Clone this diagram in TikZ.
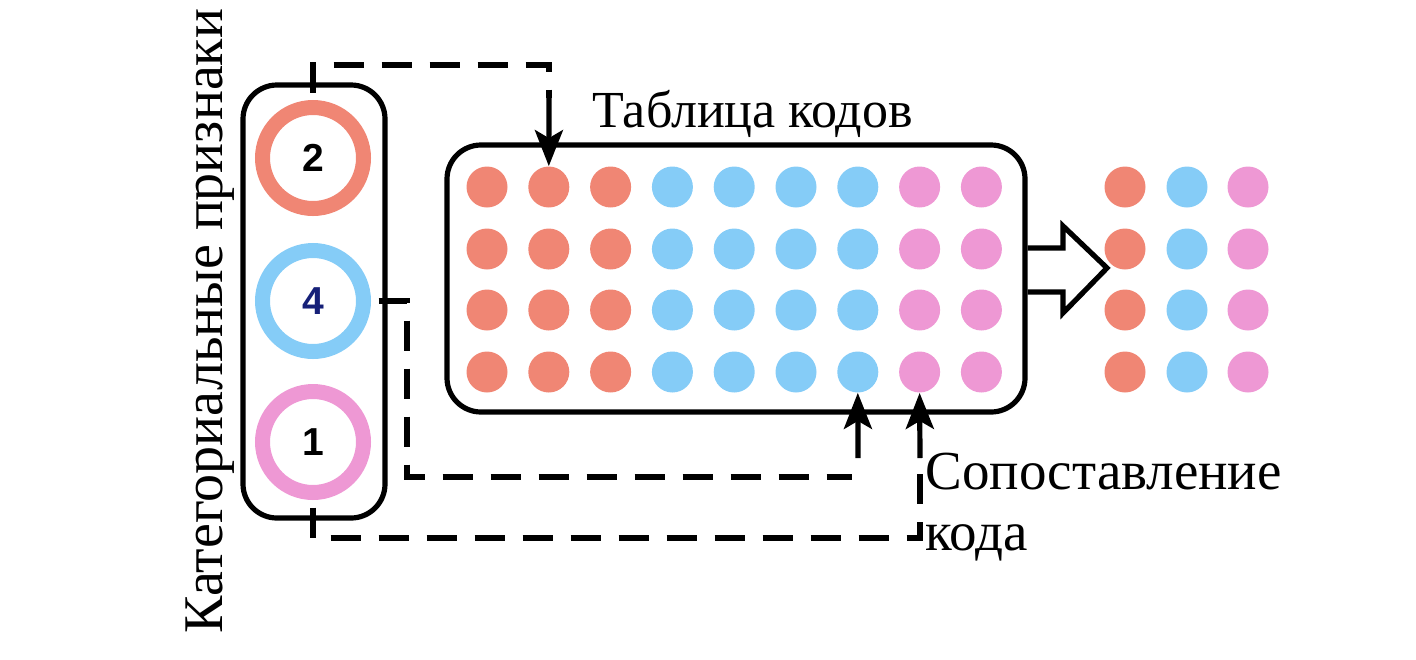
\documentclass[tikz,border=0pt]{standalone}
\usepackage{fontspec}
\setmainfont{Liberation Serif}
\newfontfamily\serifcap{Liberation Serif}
\newfontfamily\digitfont{Liberation Sans}
\usetikzlibrary{arrows.meta}
\definecolor{codered}{RGB}{240,134,116}
\definecolor{codeblue}{RGB}{133,204,247}
\definecolor{codepink}{RGB}{238,152,212}
\definecolor{numblue}{RGB}{22,32,120}

\begin{document}
\begin{tikzpicture}[x=0.5pt,y=-0.5pt,
  box/.style={draw,line width=2.6pt,rounded corners=17pt,inner sep=0pt},
  ring/.style={circle,draw=#1,line width=7.5pt,minimum size=50.5pt,inner sep=0pt,
    font=\digitfont\bfseries\fontsize{19.5}{20}\selectfont},
  dot/.style={circle,fill=#1,minimum size=20.5pt,inner sep=0pt},
  link/.style={line width=2.6pt,dash pattern=on 15pt off 9pt},
  tip/.style={line width=2.6pt,-{Stealth[length=18pt,width=14pt,inset=4pt]}},
  caption/.style={font=\serifcap\fontsize{#1}{30}\selectfont,inner sep=0pt},
  caption/.default=26]
\useasboundingbox (0,0) rectangle (1416,659);

% categorical features
\node[box,minimum width=71pt,minimum height=216.5pt] (feat) at (314,301.5) {};
\node[ring=codered] (r2) at (313,158) {2};
\node[ring=codeblue,text=numblue] (r4) at (313,301) {4};
\node[ring=codepink] (r1) at (313,442) {1};
\node[caption=28,rotate=90,anchor=base] (feattitle) at (222,321) {Категориальные признаки};

% code table and encoded result
\node[box,minimum width=289pt,minimum height=133.5pt] (tab) at (736,278.5) {};
\foreach \r/\y in {1/187,2/249,3/310,4/372}{
  \foreach \c/\col in {1/codered,2/codered,3/codered,4/codeblue,5/codeblue,
      6/codeblue,7/codeblue,8/codepink,9/codepink}
    \node[dot=\col] (d\r\c) at ({487+61.8*(\c-1)},\y) {};
  \foreach \c/\x/\col in {1/1125/codered,2/1187/codeblue,3/1248/codepink}
    \node[dot=\col] (e\r\c) at (\x,\y) {};
}
\node[caption,anchor=base west] (tabtitle) at (592,127) {Таблица кодов};
\node[caption=27.5,anchor=base west] (match1) at (925,489) {Сопоставление};
\node[caption=27.5,anchor=base west] (match2) at (925,550) {кода};

% hollow arrow
\draw[line width=2.6pt] ([yshift=15.25pt]tab.east) -- (1063,248) -- (1063,226)
  -- (1107,268) -- (1063,313) -- (1063,292) -- ([yshift=-6.75pt]tab.east);

% lookups
\coordinate (k1) at (313,65);
\coordinate (k2) at (549,65);
\coordinate (k3) at (549,98);
\draw[link,shorten <=3.75pt] (r2.north) -- (k1) -- (k2) -- (k3);
\draw[tip] (k3) -- (d12.north);

\coordinate (m1) at (407,301);
\coordinate (m2) at (407,477);
\coordinate (m3) at (852,477);
\coordinate (m4) at (858,458);
\draw[link,shorten <=3.75pt] (r4.east) -- (m1) -- (m2) -- (m3);
\draw[tip] (m4) -- (d47.south);

\coordinate (b1) at (313,538);
\coordinate (b2) at (920,538);
\coordinate (b3) at (920,458);
\draw[link,shorten <=3.75pt] (r1.south) -- (b1) -- (b2) -- (b3);
\draw[tip] (b3) -- (d48.south);
\end{tikzpicture}
\end{document}
